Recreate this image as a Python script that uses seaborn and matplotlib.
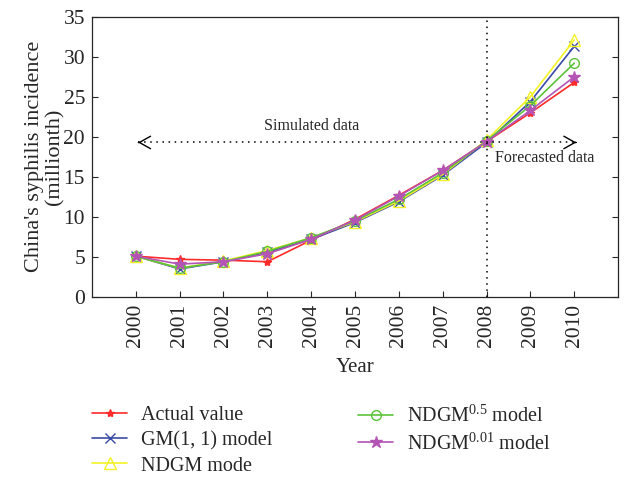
import matplotlib
matplotlib.use("Agg")
import matplotlib.pyplot as plt
import seaborn as sns
import pandas as pd

years = [2000, 2001, 2002, 2003, 2004, 2005, 2006, 2007, 2008, 2009, 2010]
actual = [5.1, 4.7, 4.6, 4.4, 7.1, 9.7, 12.7, 15.8, 19.4, 23.0, 26.8]
gm11 = [5.1, 3.5, 4.4, 5.6, 7.2, 9.3, 11.9, 15.2, 19.3, 24.4, 31.3]
ndgm = [5.1, 3.6, 4.5, 5.8, 7.4, 9.4, 12.0, 15.3, 19.6, 25.0, 32.1]
ndgm05 = [5.1, 3.6, 4.4, 5.7, 7.4, 9.5, 12.2, 15.5, 19.5, 23.9, 29.2]
ndgm001 = [5.1, 4.1, 4.4, 5.4, 7.2, 9.6, 12.6, 15.8, 19.4, 23.3, 27.5]

labels = ["Actual value", "GM(1, 1) model", "NDGM mode",
          r"NDGM$^{0.5}$ model", r"NDGM$^{0.01}$ model"]
series = [actual, gm11, ndgm, ndgm05, ndgm001]
colors = ["#ff2a2a", "#3a4aa8", "#f2f226", "#5cc23a", "#b454b4"]
markers = ["*", "x", "^", "o", "*"]
msizes = [6, 7, 8, 7, 9]
filled = [True, True, False, False, True]

sns.set_style("ticks")
plt.rcParams["font.family"] = ["Liberation Serif", "DejaVu Serif"]
plt.rcParams["mathtext.fontset"] = "custom"
plt.rcParams["mathtext.rm"] = "Liberation Serif"
plt.rcParams["mathtext.it"] = "Liberation Serif:italic"

fig = plt.figure(figsize=(6.3, 4.79), dpi=100)
ax = fig.add_axes([0.146, 0.380, 0.835, 0.585])

df = pd.DataFrame({"Year": years * len(series),
                   "value": sum(series, []),
                   "model": sum([[l] * len(years) for l in labels], [])})

for lab, col, mk, ms, fl in zip(labels, colors, markers, msizes, filled):
    sub = df[df["model"] == lab]
    sns.lineplot(data=sub, x="Year", y="value", ax=ax, color=col, marker=mk,
                 markersize=ms, linewidth=1.2,
                 markerfacecolor=(col if fl else "none"), markeredgecolor=col,
                 markeredgewidth=1.0, label=lab, legend=False)

ax.set_xlim(1999, 2011)
ax.set_ylim(0, 35)
ax.set_xticks(years)
ax.set_xticklabels([str(y) for y in years], rotation=90)
ax.set_yticks(range(0, 36, 5))
ax.tick_params(direction="in", labelsize=15.5, top=False, right=True, length=4, pad=5)
for s in ax.spines.values():
    s.set_linewidth(0.9)
ax.set_xlabel("Year", fontsize=15, labelpad=8)
ax.set_ylabel("China's syphilis incidence\n(millionth)", fontsize=16, linespacing=1.1,
              labelpad=-1)

ax.axvline(2008, color="black", linestyle=(0, (1, 3)), linewidth=1.1)
arrow_y = 19.3
ax.plot([2000.05, 2010.05], [arrow_y, arrow_y], color="black",
        linestyle=(0, (1, 3)), linewidth=1.1)
for end, d in ((2000.05, 0.02), (2010.05, -0.02)):
    ax.annotate("", xy=(end, arrow_y), xytext=(end + d, arrow_y),
                arrowprops=dict(arrowstyle="->,head_length=0.8,head_width=0.45",
                                color="black", lw=1.0, shrinkA=0, shrinkB=0))
ax.text(2004, 20.3, "Simulated data", fontsize=11.5, ha="center", va="bottom")
ax.text(2008.2, 18.3, "Forecasted data", fontsize=11.5, ha="left", va="top")

h, l = ax.get_legend_handles_labels()
common = dict(loc="upper left", frameon=False, fontsize=14.5, handlelength=1.75,
              handletextpad=0.7, labelspacing=0.3, borderaxespad=0, borderpad=0)
leg1 = fig.legend(h[:3], l[:3], bbox_to_anchor=(92 / 630, 1 - 406 / 479), **common)
leg2 = fig.legend(h[3:], l[3:], bbox_to_anchor=(358 / 630, 1 - 406 / 479), **common)

fig.savefig("out.png", dpi=100)
